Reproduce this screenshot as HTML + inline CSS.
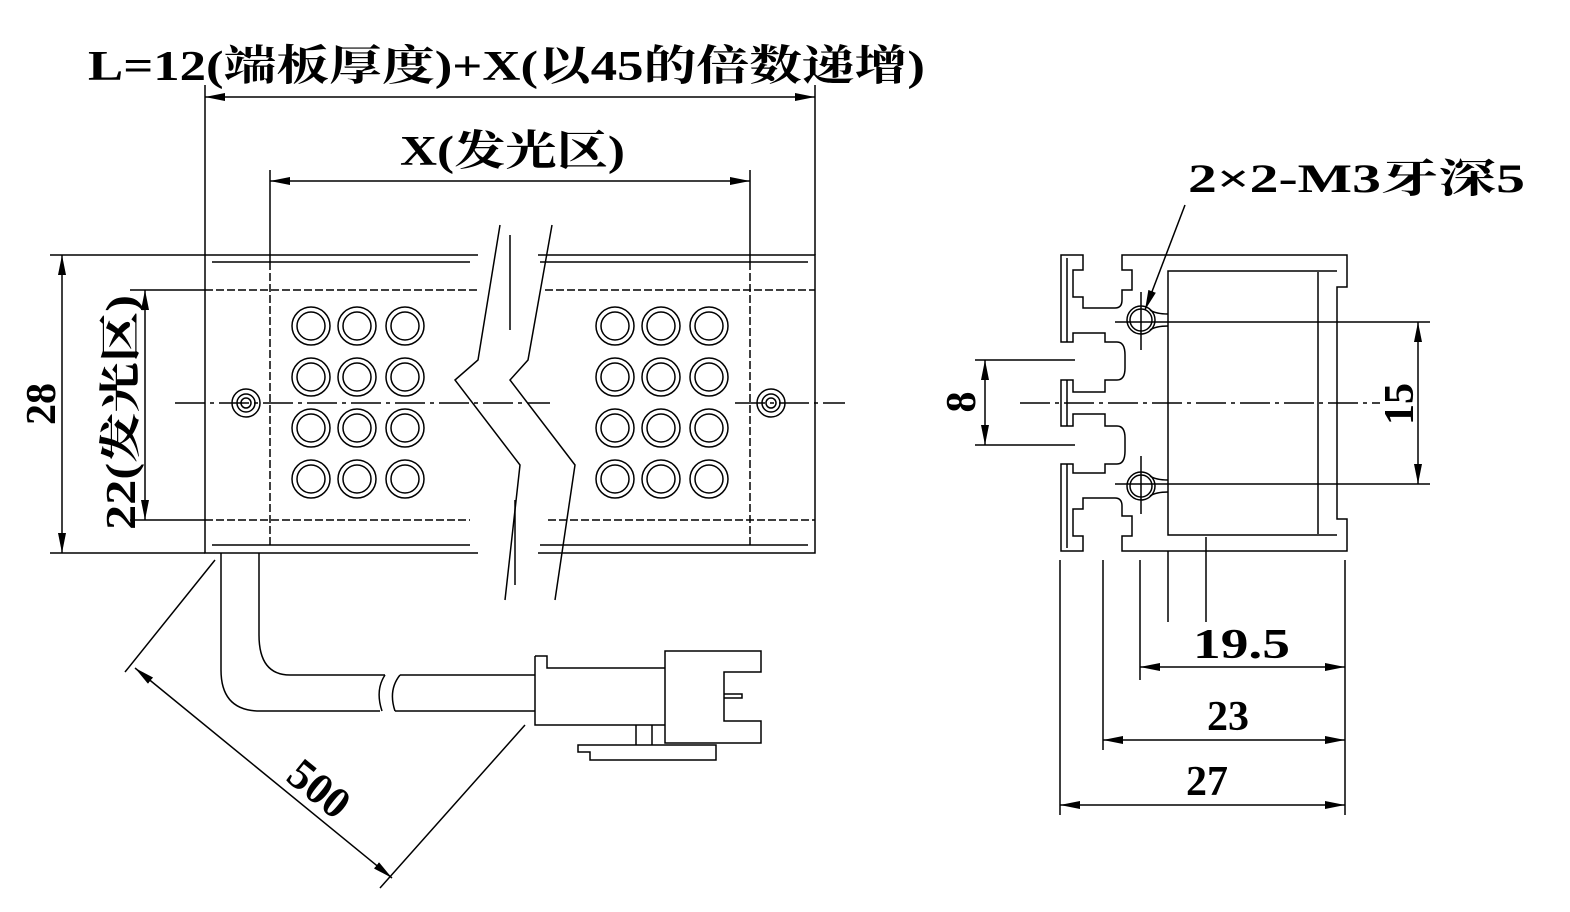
<!DOCTYPE html>
<html><head><meta charset="utf-8"><style>
html,body{margin:0;padding:0;background:#fff;}
svg{display:block;}
text{font-family:"Liberation Serif","Noto Serif CJK SC","Noto Sans CJK SC",serif;font-weight:bold;fill:#000;}
</style></head><body>
<svg width="1570" height="912" viewBox="0 0 1570 912" xmlns="http://www.w3.org/2000/svg">
<defs>
<marker id="a" markerWidth="20" markerHeight="8" refX="20" refY="4" orient="auto-start-reverse" markerUnits="userSpaceOnUse"><path d="M0,0 L20,4 L0,8 z" fill="#000"/></marker>
<g id="led"><circle r="19" fill="none" stroke="#000" stroke-width="1.5"/><circle r="14" fill="none" stroke="#000" stroke-width="1.5"/></g>
<g id="half" stroke="#000" stroke-width="1.5" fill="none">
<path d="M1061,403 V380 H1073 V392 H1105 V380 H1117 Q1125,380 1125,368 V355 Q1125,342 1117,342 H1105 V333 H1073 V342 H1061 V255 H1083 V270 H1073 V297 H1083 V308 H1115 Q1122,308 1122,300 V290 H1132 V270 H1122 V255 H1347 V287 H1337 V403"/>
<path d="M1067,258 V342 M1067,380 V403"/>
<path d="M1168,403 V271 H1337 M1318,272 V403"/>
<circle cx="1141" cy="320" r="14"/><circle cx="1141" cy="320" r="11"/>
<path d="M1150,310 Q1156,314 1168,314 M1150,330 Q1156,326 1168,326"/>
<path d="M1141,292 V350"/>
</g>
</defs>
<g stroke="#000" stroke-width="1.5" fill="none">
<!-- left main body -->
<path d="M205,255 H478 M538,255 H815 V553 H538 M478,553 H205 V255"/>
<path d="M212,262 H470 M540,262 H808 M212,545 H470 M540,545 H808"/>
<path d="M205,290 H480 M545,290 H815 M205,520 H470 M548,520 H815" stroke-dasharray="8,3"/>
<path d="M270,262 V545 M750,262 V545" stroke-dasharray="8,3"/>
<path d="M500,225 L478,360 L455,380 L520,465 L505,600"/>
<path d="M552,225 L528,360 L510,380 L575,465 L555,600"/>
<path d="M510,235 V330 M515,500 V585"/>
<path d="M175,403 H550 M735,403 H845" stroke-dasharray="30,5,4,5"/>
<circle cx="246" cy="403" r="14"/><circle cx="246" cy="403" r="9"/><circle cx="246" cy="403" r="5"/>
<circle cx="771" cy="403" r="14"/><circle cx="771" cy="403" r="9"/><circle cx="771" cy="403" r="5"/>
<path d="M205,85 V255 M815,85 V255"/>
<path d="M205,97 H815" marker-start="url(#a)" marker-end="url(#a)"/>
<path d="M270,170 V262 M750,170 V262"/>
<path d="M270,181 H750" marker-start="url(#a)" marker-end="url(#a)"/>
<path d="M50,255 H205 M50,553 H205 M130,290 H205 M130,520 H205"/>
<path d="M62,255 V553" marker-start="url(#a)" marker-end="url(#a)"/>
<path d="M145,290 V520" marker-start="url(#a)" marker-end="url(#a)"/>
<path d="M259,553 V635 Q259,675 290,675 H385 M400,675 H535"/>
<path d="M221,553 V670 Q221,711 260,711 H380 M395,711 H535"/>
<path d="M385,675 Q375,690 382,711 M400,675 Q388,690 395,711"/>
<path d="M535,656 H547 V668 H665 M535,656 V725 H665"/>
<path d="M665,651 H761 V672 H724 V721 H761 V743 H665 Z"/>
<path d="M724,694 H742 V698 H724"/>
<path d="M636,725 V745 M652,725 V745 M585,745 H716 V760 H590 V752 H578 V745 H636"/>
<path d="M215,560 L125,672 M525,725 L380,888"/>
<path d="M135,668 L392,878" marker-start="url(#a)" marker-end="url(#a)"/>
<!-- right profile -->
<use href="#half"/>
<use href="#half" transform="translate(0,806) scale(1,-1)"/>
<path d="M1168,551 V622 M1206,537 V622"/>
<path d="M1115,322 H1430 M1115,484 H1430"/>
<path d="M1020,403 H1380" stroke-dasharray="30,5,4,5"/>
<path d="M975,360 H1075 M975,445 H1075"/>
<path d="M985,360 V445" marker-start="url(#a)" marker-end="url(#a)"/>
<path d="M1418,322 V484" marker-start="url(#a)" marker-end="url(#a)"/>
<path d="M1060,560 V815 M1103,560 V750 M1140,560 V680 M1345,560 V815"/>
<path d="M1140,667 H1345" marker-start="url(#a)" marker-end="url(#a)"/>
<path d="M1103,740 H1345" marker-start="url(#a)" marker-end="url(#a)"/>
<path d="M1060,805 H1345" marker-start="url(#a)" marker-end="url(#a)"/>
<path d="M1185,205 L1145,310" marker-end="url(#a)"/>
</g>
<g>
<use href="#led" x="311" y="326"/><use href="#led" x="357" y="326"/><use href="#led" x="405" y="326"/>
<use href="#led" x="311" y="377"/><use href="#led" x="357" y="377"/><use href="#led" x="405" y="377"/>
<use href="#led" x="311" y="428"/><use href="#led" x="357" y="428"/><use href="#led" x="405" y="428"/>
<use href="#led" x="311" y="479"/><use href="#led" x="357" y="479"/><use href="#led" x="405" y="479"/>
<use href="#led" x="615" y="326"/><use href="#led" x="661" y="326"/><use href="#led" x="709" y="326"/>
<use href="#led" x="615" y="377"/><use href="#led" x="661" y="377"/><use href="#led" x="709" y="377"/>
<use href="#led" x="615" y="428"/><use href="#led" x="661" y="428"/><use href="#led" x="709" y="428"/>
<use href="#led" x="615" y="479"/><use href="#led" x="661" y="479"/><use href="#led" x="709" y="479"/>
</g>
<text x="88" y="80" font-size="42" textLength="837" lengthAdjust="spacingAndGlyphs">L=12(端板厚度)+X(以45的倍数递增)</text>
<text x="400" y="165" font-size="42" textLength="225" lengthAdjust="spacingAndGlyphs">X(发光区)</text>
<text x="1188" y="192" font-size="40" textLength="337" lengthAdjust="spacingAndGlyphs">2×2-M3牙深5</text>
<text transform="translate(55,404) rotate(-90)" font-size="42" text-anchor="middle">28</text>
<text transform="translate(135,295) rotate(-90)" font-size="42" text-anchor="end" textLength="235" lengthAdjust="spacingAndGlyphs">22(发光区)</text>
<text transform="translate(975,402) rotate(-90)" font-size="42" text-anchor="middle">8</text>
<text transform="translate(1413,404) rotate(-90)" font-size="42" text-anchor="middle">15</text>
<text x="1193" y="658" font-size="42" textLength="97" lengthAdjust="spacingAndGlyphs">19.5</text>
<text x="1228" y="730" font-size="42" text-anchor="middle">23</text>
<text x="1207" y="795" font-size="42" text-anchor="middle">27</text>
<text transform="translate(310,800) rotate(39)" font-size="44" text-anchor="middle">500</text>
</svg>
</body></html>
